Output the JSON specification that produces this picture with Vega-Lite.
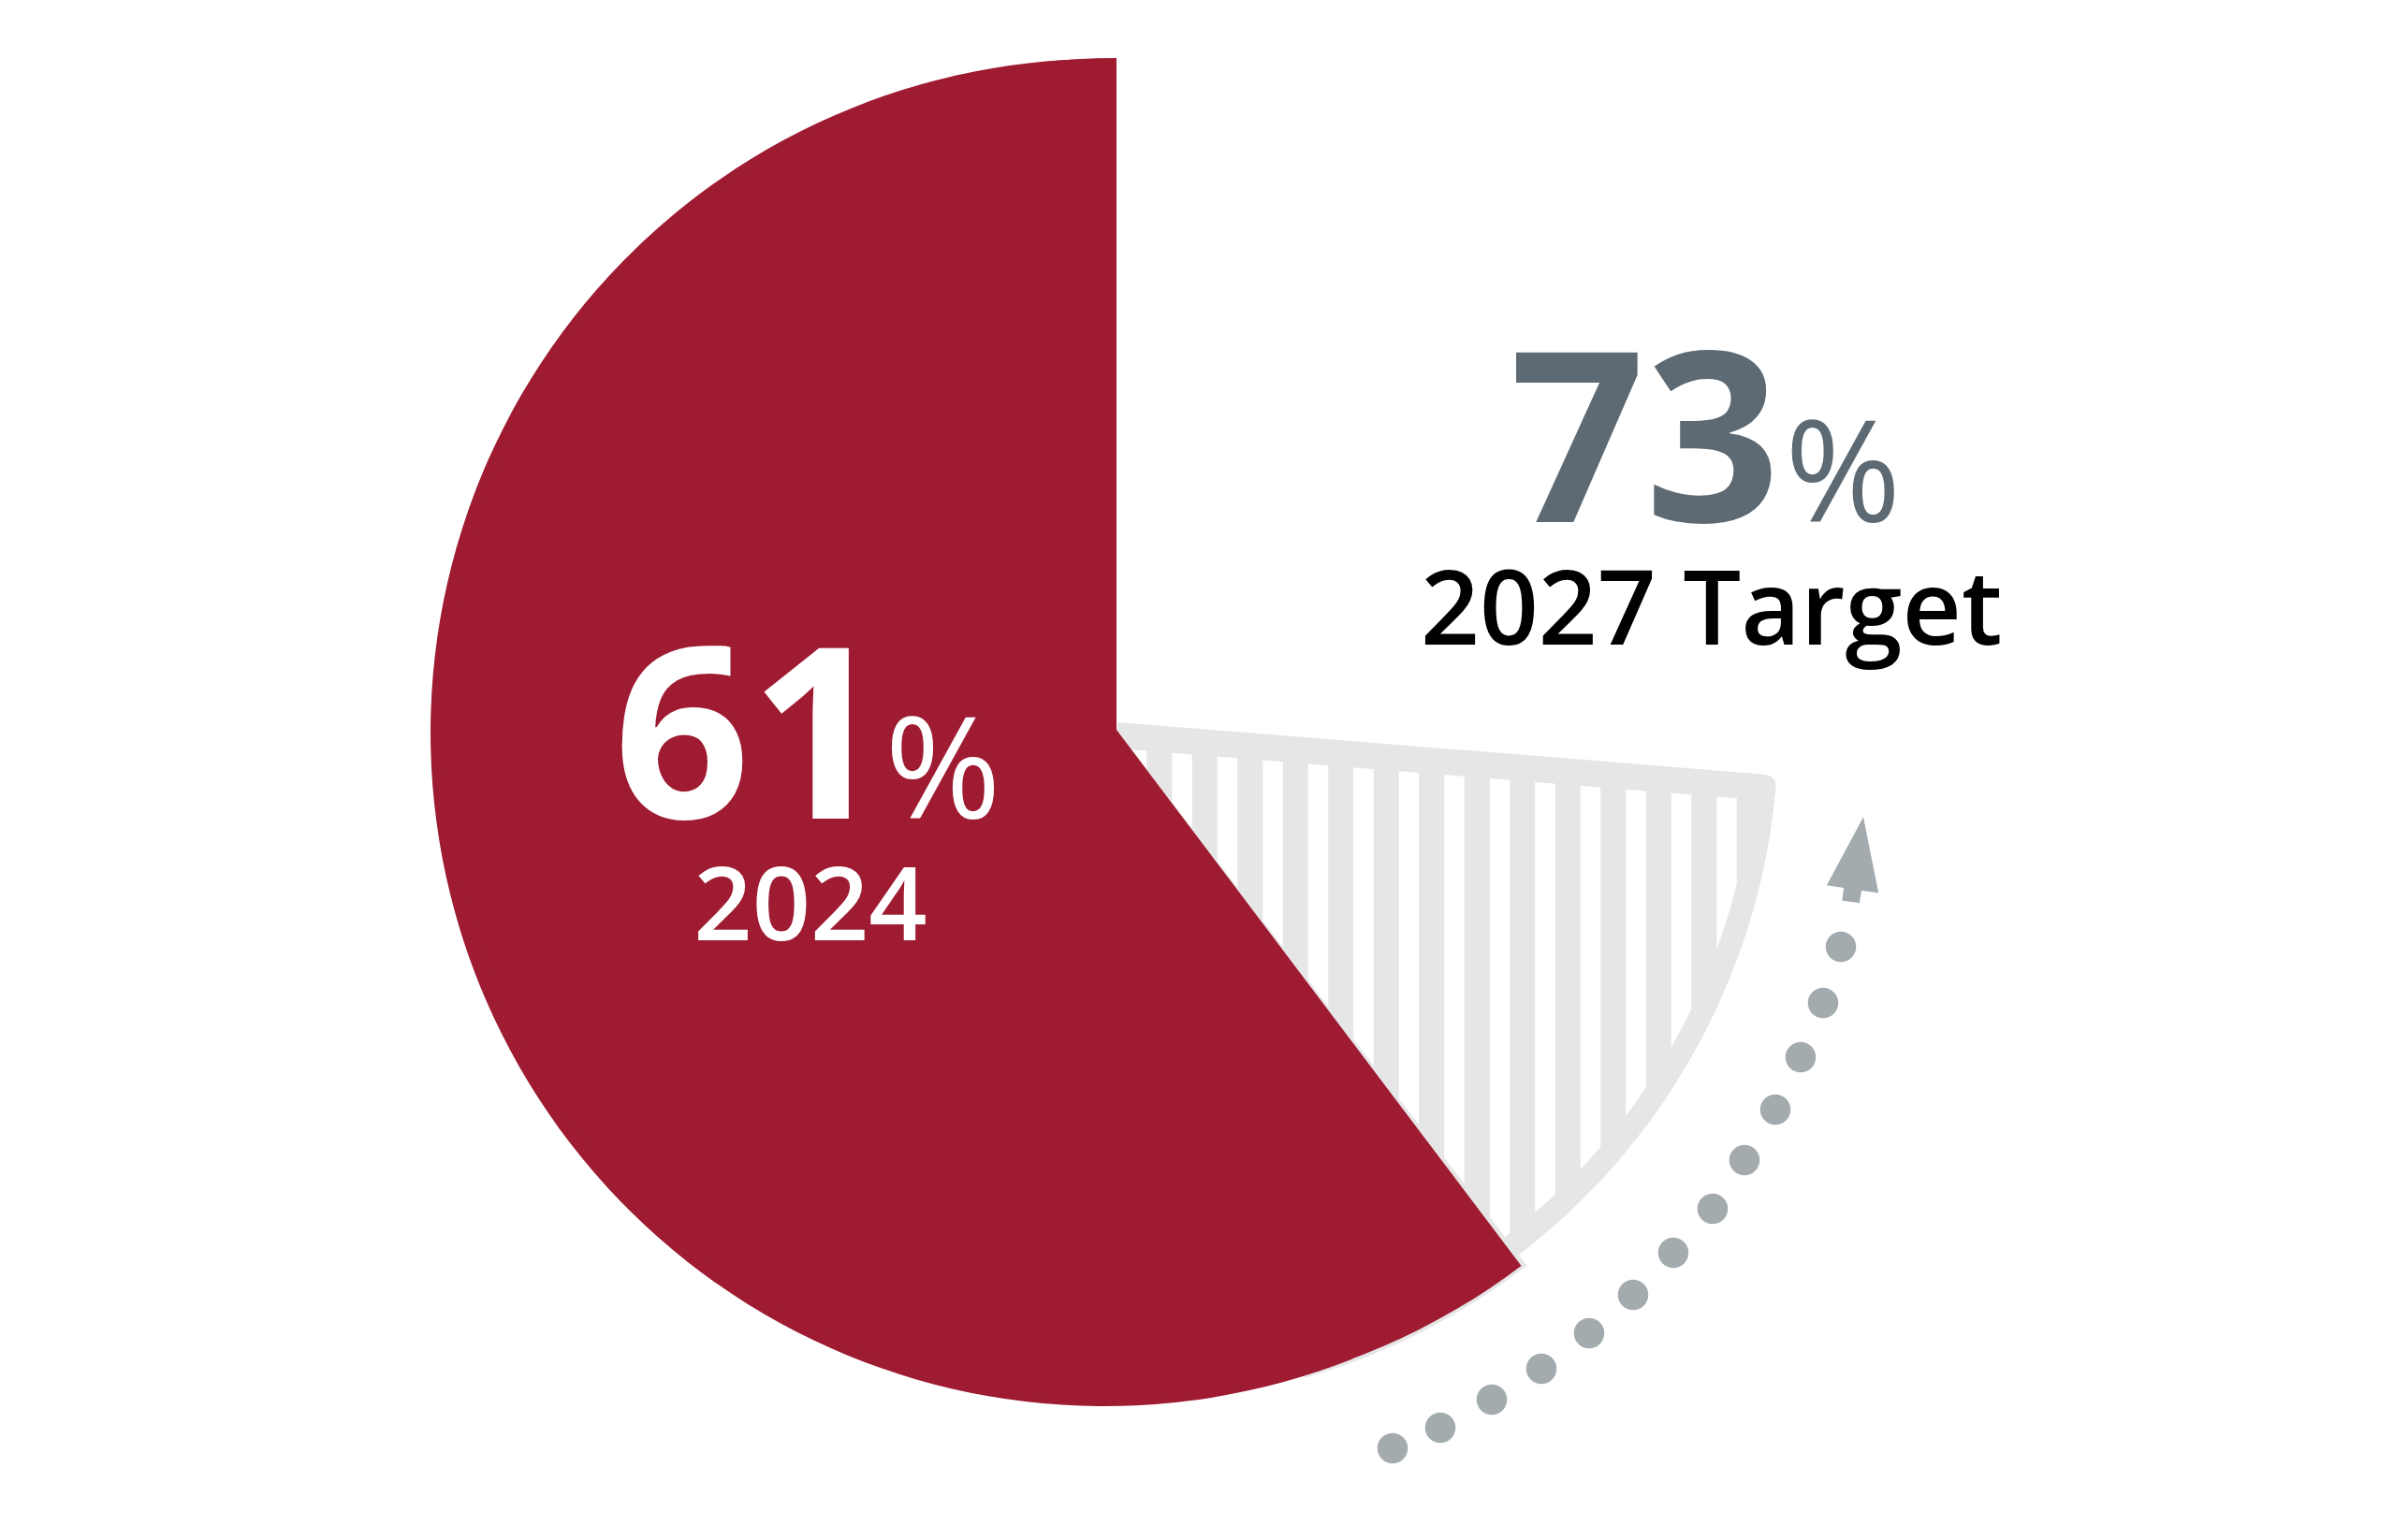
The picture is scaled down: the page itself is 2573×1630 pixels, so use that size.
{
  "$schema": "https://vega.github.io/schema/vega-lite/v6.json",
  "width": 2573,
  "height": 1630,
  "autosize": {"type": "none"},
  "padding": 0,
  "background": "white",
  "config": {"view": {"stroke": null}},
  "layer": [
    {
      "data": {"values": [{"segment": "Gap to 2027 target", "from": 26.1, "to": 40.6}]},
      "mark": {"type": "arc", "innerRadius": 0, "outerRadius": 707, "cornerRadius": 12, "color": "#e6e6e6"},
      "encoding": {
        "theta": {"field": "from", "type": "quantitative", "scale": {"domain": [0, 100], "range": [0, 6.283185307179586]}},
        "theta2": {"field": "to"},
        "x": {"datum": 0.69, "type": "quantitative", "scale": {"domain": [-164.09, 191.3], "nice": false, "zero": false}, "axis": null},
        "y": {"datum": 0.14, "type": "quantitative", "scale": {"domain": [-117.27, 107.87], "nice": false, "zero": false}, "axis": null}
      }
    },
    {
      "data": {"values": [{"x": 3.66}, {"x": 10.36}, {"x": 17.06}, {"x": 23.76}, {"x": 30.46}, {"x": 37.15}, {"x": 43.85}, {"x": 50.55}, {"x": 57.25}, {"x": 63.95}, {"x": 70.65}, {"x": 77.35}, {"x": 84.05}, {"x": 90.75}]},
      "mark": {"type": "rule", "color": "#ffffff", "strokeWidth": 21.5, "strokeCap": "butt"},
      "encoding": {
        "x": {"field": "x", "type": "quantitative", "scale": {"domain": [-164.09, 191.3], "nice": false, "zero": false}, "axis": null},
        "y": {"datum": -2, "type": "quantitative", "scale": {"domain": [-117.27, 107.87], "nice": false, "zero": false}, "axis": null},
        "y2": {"datum": -85.5}
      }
    },
    {
      "data": {"values": [{"part": "top edge"}]},
      "mark": {"type": "rule", "color": "#e6e6e6", "strokeWidth": 28, "strokeCap": "butt"},
      "encoding": {
        "x": {"datum": 0.69, "type": "quantitative", "scale": {"domain": [-164.09, 191.3], "nice": false, "zero": false}, "axis": null},
        "x2": {"datum": 95.86},
        "y": {"datum": -0.69, "type": "quantitative", "scale": {"domain": [-117.27, 107.87], "nice": false, "zero": false}, "axis": null},
        "y2": {"datum": -8.34}
      }
    },
    {
      "data": {"values": [{"segment": "Target rim", "from": 26.1, "to": 40.6}]},
      "mark": {"type": "arc", "innerRadius": 683, "outerRadius": 707, "cornerRadius": 12, "color": "#e6e6e6"},
      "encoding": {
        "theta": {"field": "from", "type": "quantitative", "scale": {"domain": [0, 100], "range": [0, 6.283185307179586]}},
        "theta2": {"field": "to"},
        "x": {"datum": 0.69, "type": "quantitative", "scale": {"domain": [-164.09, 191.3], "nice": false, "zero": false}, "axis": null},
        "y": {"datum": 0.14, "type": "quantitative", "scale": {"domain": [-117.27, 107.87], "nice": false, "zero": false}, "axis": null}
      }
    },
    {
      "data": {"values": [{"segment": "Rim shadow", "from": 39.6, "to": 45.5}]},
      "mark": {"type": "arc", "innerRadius": 0, "outerRadius": 721.5, "color": "#e6e6e6"},
      "encoding": {
        "theta": {"field": "from", "type": "quantitative", "scale": {"domain": [0, 100], "range": [0, 6.283185307179586]}},
        "theta2": {"field": "to"},
        "x": {"datum": 0.69, "type": "quantitative", "scale": {"domain": [-164.09, 191.3], "nice": false, "zero": false}, "axis": null},
        "y": {"datum": 0.14, "type": "quantitative", "scale": {"domain": [-117.27, 107.87], "nice": false, "zero": false}, "axis": null}
      }
    },
    {
      "data": {"values": [{"segment": "2024 actual (outer rim)", "from": 44, "to": 100}]},
      "mark": {"type": "arc", "innerRadius": 0, "outerRadius": 720, "color": "#9e1b32"},
      "encoding": {
        "theta": {"field": "from", "type": "quantitative", "scale": {"domain": [0, 100], "range": [0, 6.283185307179586]}},
        "theta2": {"field": "to"},
        "x": {"datum": -1.1, "type": "quantitative", "scale": {"domain": [-164.09, 191.3], "nice": false, "zero": false}, "axis": null},
        "y": {"datum": -0.28, "type": "quantitative", "scale": {"domain": [-117.27, 107.87], "nice": false, "zero": false}, "axis": null}
      }
    },
    {
      "data": {"values": [{"segment": "2024 actual", "from": 39.71, "to": 100}]},
      "mark": {"type": "arc", "innerRadius": 0, "outerRadius": 718, "color": "#9e1b32"},
      "encoding": {
        "theta": {"field": "from", "type": "quantitative", "scale": {"domain": [0, 100], "range": [0, 6.283185307179586]}},
        "theta2": {"field": "to"},
        "x": {"datum": 0.69, "type": "quantitative", "scale": {"domain": [-164.09, 191.3], "nice": false, "zero": false}, "axis": null},
        "y": {"datum": 0.14, "type": "quantitative", "scale": {"domain": [-117.27, 107.87], "nice": false, "zero": false}, "axis": null}
      }
    },
    {
      "data": {"values": [
        {"x": 41.44, "y": -105.94}, {"x": 48.48, "y": -102.9}, {"x": 56.08, "y": -98.76}, {"x": 63.4, "y": -94.2},
        {"x": 70.44, "y": -88.95}, {"x": 76.93, "y": -83.29}, {"x": 82.87, "y": -77.07}, {"x": 88.67, "y": -70.58},
        {"x": 93.37, "y": -63.4}, {"x": 97.93, "y": -55.94}, {"x": 101.66, "y": -48.2}, {"x": 104.97, "y": -40.19},
        {"x": 107.6, "y": -31.91}
      ]},
      "mark": {"type": "point", "shape": "circle", "filled": true, "size": 1058, "color": "#a4abae", "opacity": 1},
      "encoding": {
        "x": {"field": "x", "type": "quantitative", "scale": {"domain": [-164.09, 191.3], "nice": false, "zero": false}, "axis": null},
        "y": {"field": "y", "type": "quantitative", "scale": {"domain": [-117.27, 107.87], "nice": false, "zero": false}, "axis": null}
      }
    },
    {
      "data": {"values": [{"x": 109.99, "y": -18.99}]},
      "mark": {"type": "point", "shape": "M0,-1L0.611,0.705L0.207,0.705L0.207,1L-0.207,1L-0.207,0.705L-0.611,0.705Z", "filled": true, "size": 8391, "angle": 8.4, "color": "#a4abae", "opacity": 1},
      "encoding": {
        "x": {"field": "x", "type": "quantitative", "scale": {"domain": [-164.09, 191.3], "nice": false, "zero": false}, "axis": null},
        "y": {"field": "y", "type": "quantitative", "scale": {"domain": [-117.27, 107.87], "nice": false, "zero": false}, "axis": null}
      }
    },
    {
      "data": {"values": [{"label": "61"}]},
      "mark": {"type": "text", "font": "Open Sans", "fontWeight": "bold", "fontSize": 255, "color": "#ffffff", "align": "center", "baseline": "alphabetic"},
      "encoding": {
        "x": {"datum": -53.38, "type": "quantitative", "scale": {"domain": [-164.09, 191.3], "nice": false, "zero": false}, "axis": null},
        "y": {"datum": -12.98, "type": "quantitative", "scale": {"domain": [-117.27, 107.87], "nice": false, "zero": false}, "axis": null},
        "text": {"field": "label"}
      }
    },
    {
      "data": {"values": [{"label": "%"}]},
      "mark": {"type": "text", "font": "Open Sans", "fontWeight": 500, "fontSize": 150, "color": "#ffffff", "align": "center", "baseline": "alphabetic"},
      "encoding": {
        "x": {"datum": -24.93, "type": "quantitative", "scale": {"domain": [-164.09, 191.3], "nice": false, "zero": false}, "axis": null},
        "y": {"datum": -12.98, "type": "quantitative", "scale": {"domain": [-117.27, 107.87], "nice": false, "zero": false}, "axis": null},
        "text": {"field": "label"}
      }
    },
    {
      "data": {"values": [{"label": "2024"}]},
      "mark": {"type": "text", "font": "Open Sans", "fontWeight": 600, "fontSize": 109, "color": "#ffffff", "align": "center", "baseline": "alphabetic"},
      "encoding": {
        "x": {"datum": -44.48, "type": "quantitative", "scale": {"domain": [-164.09, 191.3], "nice": false, "zero": false}, "axis": null},
        "y": {"datum": -30.94, "type": "quantitative", "scale": {"domain": [-117.27, 107.87], "nice": false, "zero": false}, "axis": null},
        "text": {"field": "label"}
      }
    },
    {
      "data": {"values": [{"label": "73"}]},
      "mark": {"type": "text", "font": "Open Sans", "fontWeight": "bold", "fontSize": 253, "color": "#5d6a74", "align": "center", "baseline": "alphabetic"},
      "encoding": {
        "x": {"datum": 78.7, "type": "quantitative", "scale": {"domain": [-164.09, 191.3], "nice": false, "zero": false}, "axis": null},
        "y": {"datum": 30.8, "type": "quantitative", "scale": {"domain": [-117.27, 107.87], "nice": false, "zero": false}, "axis": null},
        "text": {"field": "label"}
      }
    },
    {
      "data": {"values": [{"label": "%"}]},
      "mark": {"type": "text", "font": "Open Sans", "fontWeight": 500, "fontSize": 150, "color": "#5d6a74", "align": "center", "baseline": "alphabetic"},
      "encoding": {
        "x": {"datum": 107.9, "type": "quantitative", "scale": {"domain": [-164.09, 191.3], "nice": false, "zero": false}, "axis": null},
        "y": {"datum": 30.8, "type": "quantitative", "scale": {"domain": [-117.27, 107.87], "nice": false, "zero": false}, "axis": null},
        "text": {"field": "label"}
      }
    },
    {
      "data": {"values": [{"label": "2027 Target"}]},
      "mark": {"type": "text", "font": "Open Sans", "fontWeight": 600, "fontSize": 110, "color": "#000000", "align": "center", "baseline": "alphabetic"},
      "encoding": {
        "x": {"datum": 88.5, "type": "quantitative", "scale": {"domain": [-164.09, 191.3], "nice": false, "zero": false}, "axis": null},
        "y": {"datum": 12.71, "type": "quantitative", "scale": {"domain": [-117.27, 107.87], "nice": false, "zero": false}, "axis": null},
        "text": {"field": "label"}
      }
    }
  ]
}
